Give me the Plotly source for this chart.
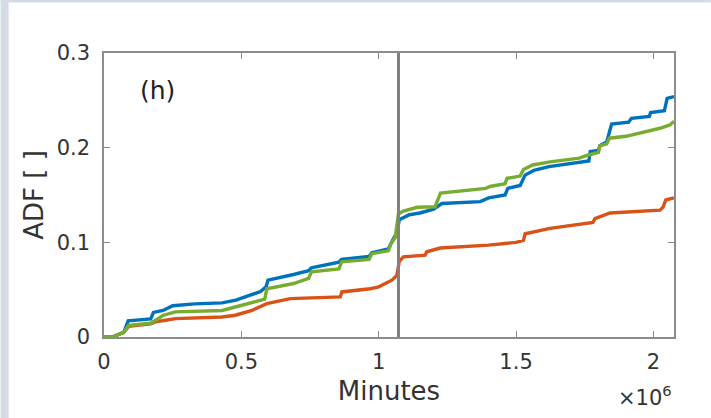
import plotly.graph_objects as go

# ---------------- data (x in units of 10^6 minutes) ----------------
blue_x = [0, 0.030, 0.072, 0.088, 0.17, 0.18, 0.215, 0.25, 0.33, 0.43, 0.48, 0.53, 0.57, 0.59,
          0.597, 0.69, 0.745, 0.755, 0.855, 0.865, 0.965, 0.975, 1.035, 1.05, 1.066, 1.075,
          1.11, 1.15, 1.20, 1.23, 1.37, 1.40, 1.46, 1.47, 1.515, 1.533, 1.565, 1.62, 1.73,
          1.765, 1.77, 1.80, 1.805, 1.83, 1.848, 1.91, 1.92, 1.985, 1.99, 2.04, 2.05, 2.075]
blue_y = [0, 0, 0.005, 0.017, 0.019, 0.026, 0.028, 0.033, 0.035, 0.036, 0.039, 0.044, 0.048, 0.053,
          0.060, 0.066, 0.070, 0.073, 0.079, 0.082, 0.085, 0.089, 0.093, 0.102, 0.110, 0.124,
          0.129, 0.131, 0.135, 0.141, 0.143, 0.147, 0.150, 0.157, 0.160, 0.171, 0.176, 0.180, 0.184,
          0.186, 0.196, 0.197, 0.202, 0.206, 0.225, 0.227, 0.231, 0.233, 0.237, 0.239, 0.252, 0.254]

green_x = [0, 0.030, 0.072, 0.09, 0.17, 0.19, 0.216, 0.26, 0.43, 0.478, 0.54, 0.585, 0.593, 0.69,
           0.745, 0.755, 0.855, 0.865, 0.965, 0.975, 1.035, 1.045, 1.06, 1.072, 1.09, 1.14, 1.205,
           1.225, 1.39, 1.405, 1.46, 1.467, 1.515, 1.527, 1.56, 1.624, 1.73, 1.76, 1.80, 1.805,
           1.83, 1.84, 1.90, 1.965, 2.024, 2.06, 2.075]
green_y = [0, 0, 0.005, 0.0124, 0.0145, 0.018, 0.023, 0.0265, 0.028, 0.0317, 0.037, 0.040, 0.051, 0.0565,
           0.062, 0.0688, 0.072, 0.0794, 0.082, 0.088, 0.091, 0.0988, 0.105, 0.130, 0.133, 0.137, 0.1376,
           0.152, 0.157, 0.159, 0.162, 0.1676, 0.170, 0.177, 0.1817, 0.185, 0.189, 0.192, 0.195, 0.202,
           0.204, 0.210, 0.212, 0.216, 0.2205, 0.224, 0.228]

red_x = [0, 0.030, 0.072, 0.09, 0.17, 0.187, 0.224, 0.26, 0.43, 0.478, 0.539, 0.593, 0.678, 0.86,
         0.866, 0.969, 1.0, 1.048, 1.066, 1.075, 1.09, 1.169, 1.175, 1.224, 1.40, 1.50, 1.527,
         1.533, 1.624, 1.733, 1.78, 1.787, 1.842, 2.024, 2.035, 2.045, 2.075]
red_y = [0, 0, 0.005, 0.0113, 0.014, 0.016, 0.0177, 0.0194, 0.0212, 0.023, 0.0282, 0.0353, 0.0406, 0.0423,
         0.0476, 0.051, 0.053, 0.060, 0.065, 0.080, 0.0847, 0.0865, 0.090, 0.094, 0.097, 0.100, 0.102,
         0.109, 0.1147, 0.119, 0.121, 0.125, 0.131, 0.134, 0.137, 0.1447, 0.147]

event_x = 1.072
x_ticks = [0, 0.5, 1, 1.5, 2]
x_ticklabels = ["0", "0.5", "1", "1.5", "2"]
y_ticks = [0, 0.1, 0.2, 0.3]
y_ticklabels = ["0", "0.1", "0.2", "0.3"]
x_range = [0, 2.075]
y_range = [0, 0.3]

# ---------------- style ----------------
FONT = "DejaVu Sans"
W, H = 711, 418
ML, MR, MT, MB = 103.5, 37, 53.3, 81.3
AX = "#8c8c8c"
TXT = "#333333"

def px_to_paper_x(px):
    return (px - ML) / (W - ML - MR)

def px_to_paper_y(py):
    return (H - MB - py) / (H - MT - MB)

fig = go.Figure()
for xs, ys, col in [(blue_x, blue_y, "#0072BD"), (red_x, red_y, "#D95319"), (green_x, green_y, "#77AC30")]:
    fig.add_trace(go.Scatter(x=xs, y=ys, mode="lines", line=dict(color=col, width=3.4),
                             showlegend=False, hoverinfo="skip"))
fig.add_trace(go.Scatter(x=[event_x, event_x], y=y_range, mode="lines",
                         line=dict(color="#7f7f7f", width=3), showlegend=False, hoverinfo="skip"))

axis_common = dict(showgrid=False, zeroline=False, showline=True, linecolor=AX, linewidth=1.5,
                   mirror="ticks", ticks="inside", ticklen=6, tickcolor=AX, tickwidth=1.2,
                   tickfont=dict(family=FONT, size=21, color=TXT))

fig.update_layout(
    width=W, height=H,
    margin=dict(l=ML, r=MR, t=MT, b=MB, pad=0),
    paper_bgcolor="white", plot_bgcolor="white",
    xaxis=dict(range=x_range, tickvals=x_ticks, ticktext=x_ticklabels, ticklabelstandoff=5,
               title=dict(text="Minutes", font=dict(family=FONT, size=26, color=TXT), standoff=9),
               **axis_common),
    yaxis=dict(range=y_range, tickvals=y_ticks, ticktext=y_ticklabels, ticklabelstandoff=8,
               title=dict(text="ADF [ ]", font=dict(family=FONT, size=26, color=TXT), standoff=6),
               **axis_common),
    shapes=[
        dict(type="rect", xref="paper", yref="paper", x0=px_to_paper_x(0), x1=px_to_paper_x(8),
             y0=px_to_paper_y(H), y1=px_to_paper_y(0), fillcolor="#d5dbe5", line=dict(width=0), layer="below"),
        dict(type="rect", xref="paper", yref="paper", x0=px_to_paper_x(0), x1=px_to_paper_x(W),
             y0=px_to_paper_y(3), y1=px_to_paper_y(0), fillcolor="#d5dbe5", line=dict(width=0), layer="below"),
    ],
    annotations=[
        dict(text="(h)", x=0.193, y=0.26, xref="x", yref="y", showarrow=False,
             font=dict(family=FONT, size=25, color="#222222")),
        dict(text="×10<sup>6</sup>", x=1.0, y=px_to_paper_y(412), xref="paper", yref="paper",
             xanchor="right", yanchor="bottom", showarrow=False,
             font=dict(family=FONT, size=21, color=TXT)),
    ],
)

fig.write_html("out.html")
